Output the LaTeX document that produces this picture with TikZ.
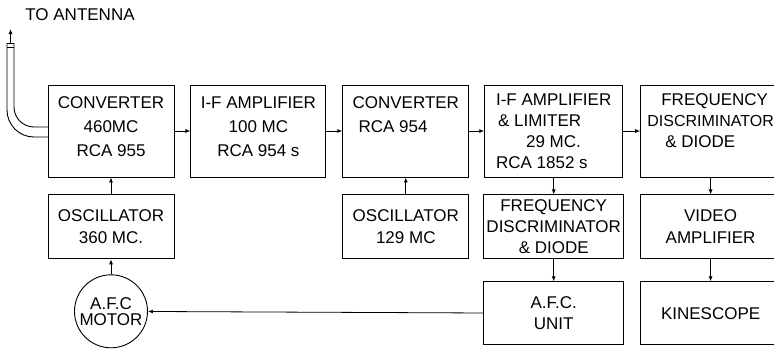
\documentclass[tikz,border=0pt]{standalone}
\usepackage{fontspec}
\setmainfont{Liberation Sans}
\usetikzlibrary{arrows.meta,positioning}

\begin{document}
\begin{tikzpicture}[
    x=1pt, y=-1pt,
    node distance=16pt,
    box/.style={rectangle, draw, line width=0.9pt, inner sep=0.5pt, align=center, font=\fontsize{17}{23}\selectfont},
    tall/.style={box, minimum height=92pt},
    short/.style={box, minimum height=64pt},
    motorc/.style={circle, draw, line width=0.9pt, inner sep=0pt, minimum size=73pt, align=center, font=\fontsize{17}{16}\selectfont},
    arrow/.style={-{Latex[length=5pt,width=4pt]}, line width=0.8pt},
    cable/.style={line width=0.9pt}
]
    \useasboundingbox (0,0) rectangle (774,349);

    % top row
    \node[tall, minimum width=126pt, text depth=9pt, font=\fontsize{17}{24}\selectfont] (conv1) at (111,131) {CONVERTER\\460MC\\RCA 955};
    \node[tall, minimum width=135pt, text depth=9pt, right=16pt of conv1, font=\fontsize{17}{24}\selectfont] (ifamp) {I-F AMPLIFIER\\100 MC\\RCA 954 s};
    \node[tall, minimum width=126pt, text depth=9pt, right=16pt of ifamp, align=left, font=\fontsize{17}{24}\selectfont] (conv2) {CONVERTER\\\hspace{6pt}RCA 954\\\mbox{}};
    \node[tall, minimum width=138pt, right=15pt of conv2, align=left, font=\fontsize{17}{21}\selectfont] (iflim) {I-F AMPLIFIER\\\hspace{2pt}\& LIMITER\\\hspace{30pt}29 MC.\\RCA 1852 s};
    \node[tall, minimum width=140pt, right=17pt of iflim, align=left, font=\fontsize{17}{21}\selectfont] (disc) {\hspace{14pt}FREQUENCY\\{\fontsize{16}{21}\selectfont DISCRIMINATOR}\\\hspace{18pt}\& DIODE\\\mbox{}};

    % second row
    \node[short, minimum width=126pt, below=17pt of conv1, font=\fontsize{17}{22}\selectfont] (osc1) {OSCILLATOR\\360 MC.};
    \node[short, minimum width=126pt, below=17pt of conv2, font=\fontsize{17}{22}\selectfont] (osc2) {OSCILLATOR\\129 MC};
    \node[short, minimum width=140pt, below=17pt of iflim, font=\fontsize{17}{21}\selectfont] (disc2) {FREQUENCY\\DISCRIMINATOR\\\& DIODE};
    \node[short, minimum width=140pt, below=17pt of disc, font=\fontsize{17}{22}\selectfont] (video) {VIDEO\\AMPLIFIER};

    % bottom row
    \node[box, minimum width=140pt, minimum height=63pt, below=22pt of disc2, font=\fontsize{17}{21}\selectfont] (afc) {A.F.C.\\UNIT};
    \node[box, minimum width=140pt, minimum height=63pt, below=22pt of video] (kine) {KINESCOPE};
    \node[motorc, below=15pt of osc1] (motor) {A.F.C\\MOTOR};

    % antenna lead
    \node[font=\fontsize{17}{20}\selectfont, inner sep=0pt] (ant) at (80,15) {TO ANTENNA};
    \coordinate (leadtop) at (10.5,43);
    \coordinate (tip) at (10.5,29);
    \draw[cable, rounded corners=27pt] (48,137) -| (7,43);
    \draw[cable, rounded corners=20pt] (48,127) -| (14,43);
    \draw[cable] (7,43) -- (14,43) (7,47) -- (14,47);
    \draw[arrow] (leadtop) -- (tip);

    % signal path
    \draw[arrow] (conv1) -- (ifamp);
    \draw[arrow] (ifamp) -- (conv2);
    \draw[arrow] (conv2) -- (iflim);
    \draw[arrow] (iflim) -- (disc);
    \draw[arrow] (osc1) -- (conv1);
    \draw[arrow] (osc2) -- (conv2);
    \draw[arrow] (iflim) -- (disc2);
    \draw[arrow] (disc2) -- (afc);
    \draw[arrow] (disc) -- (video);
    \draw[arrow] (video) -- (kine);
    \draw[arrow] (afc) -- (motor);
    \draw[arrow] (motor) -- (osc1);
\end{tikzpicture}
\end{document}
